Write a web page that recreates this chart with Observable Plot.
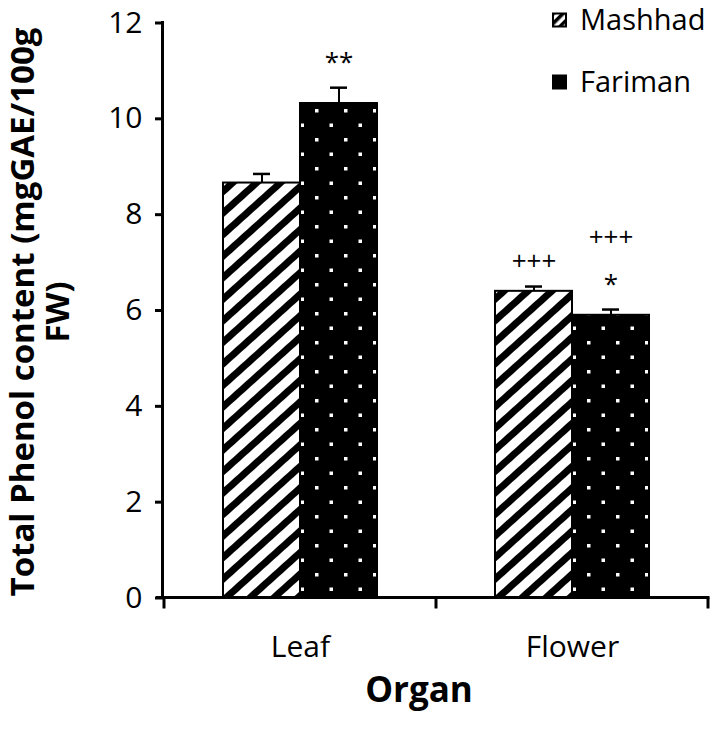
<!DOCTYPE html>
<html>
<head>
<meta charset="utf-8">
<script src="https://cdn.jsdelivr.net/npm/d3@7"></script>
<script src="https://cdn.jsdelivr.net/npm/@observablehq/plot@0.6"></script>
<style>
  html, body { margin: 0; padding: 0; background: #fff; }
  #chart { width: 717px; height: 729px; }
</style>
</head>
<body>
<div id="chart"></div>
<script>
// ---- data ----
const organs = ["Leaf", "Flower"];
const sites = ["Mashhad", "Fariman"];
const mashhadMean = [8.66, 6.40];
const mashhadErr = [0.19, 0.10];
const farimanMean = [10.32, 5.90];
const farimanErr = [0.33, 0.12];
// significance marks: first row right above the error bar, second row above it
const mashhadNote1 = ["", "+++"];
const farimanNote1 = ["**", "*"];
const mashhadNote2 = ["", ""];
const farimanNote2 = ["", "+++"];
const yTicks = [0, 2, 4, 6, 8, 10, 12];
const yLabelLines = ["Total Phenol content (mgGAE/100g", "FW)"];
const xTitle = "Organ";

const rows = [];
organs.forEach((o, i) => {
  rows.push({organ: o, site: "Mashhad", mean: mashhadMean[i], top: mashhadMean[i] + mashhadErr[i], note1: mashhadNote1[i], note2: mashhadNote2[i]});
  rows.push({organ: o, site: "Fariman", mean: farimanMean[i], top: farimanMean[i] + farimanErr[i], note1: farimanNote1[i], note2: farimanNote2[i]});
});

const FONT = "'Open Sans', 'DejaVu Sans', sans-serif";

const plot = Plot.plot({
  width: 717,
  height: 729,
  marginLeft: 164,
  marginRight: 9,
  marginTop: 22.5,
  marginBottom: 131.5,
  style: {fontFamily: FONT, background: "white", color: "black", overflow: "visible"},
  fx: {domain: organs, padding: 0, label: null, axis: null},
  x: {domain: sites, paddingInner: 0, paddingOuter: 0.75, axis: null},
  y: {domain: [0, 12], axis: null},
  marks: [
    Plot.barY(rows.filter(d => d.site === "Mashhad"), {fx: "organ", x: "site", y: "mean", fill: "url(#stripes)", stroke: "black", strokeWidth: 2}),
    Plot.barY(rows.filter(d => d.site === "Fariman"), {fx: "organ", x: "site", y: "mean", fill: "url(#dots)", stroke: "black", strokeWidth: 2}),
    Plot.ruleX(rows, {fx: "organ", x: "site", y1: "mean", y2: "top", stroke: "black", strokeWidth: 2}),
    Plot.tickY(rows, {fx: "organ", x: "site", y: "top", inset: 30, stroke: "black", strokeWidth: 2.5}),
    Plot.text(rows, {fx: "organ", x: "site", y: "top", text: "note1", dy: -25, fontSize: 26, fill: "black"}),
    Plot.text(rows, {fx: "organ", x: "site", y: "top", text: "note2", dy: -72, fontSize: 26, fill: "black"}),
    Plot.axisY({ticks: yTicks, tickSize: 9, tickPadding: 13, fontSize: 30, strokeWidth: 3, label: null}),
    Plot.axisFx({anchor: "bottom", tickSize: 0, tickPadding: 38, fontSize: 30, label: null})
  ]
});

const svg = d3.select(plot);
const defs = svg.insert("defs", ":first-child");
// diagonal stripes (Mashhad)
const st = defs.append("pattern").attr("id", "stripes").attr("patternUnits", "userSpaceOnUse")
  .attr("width", 16).attr("height", 16).attr("patternTransform", "rotate(-42)");
st.append("rect").attr("width", 16).attr("height", 16).attr("fill", "white");
st.append("rect").attr("width", 16).attr("height", 7).attr("fill", "black");
// dotted black (Fariman)
const dt = defs.append("pattern").attr("id", "dots").attr("patternUnits", "userSpaceOnUse")
  .attr("x", 25).attr("y", 22).attr("width", 29).attr("height", 29);
dt.append("rect").attr("width", 29).attr("height", 29).attr("fill", "black");
dt.append("rect").attr("x", 0).attr("y", 0).attr("width", 3.5).attr("height", 3.5).attr("fill", "white");
dt.append("rect").attr("x", 14.5).attr("y", 14.5).attr("width", 3.5).attr("height", 3.5).attr("fill", "white");

// axis lines using the plot's scales
const fx = plot.scale("fx");
const y = plot.scale("y");
const x0 = fx.apply(organs[0]);
const xEnd = fx.apply(organs[organs.length - 1]) + fx.bandwidth;
const yZero = y.apply(0), yTop = y.apply(12);
const axes = svg.append("g").attr("stroke", "black").attr("stroke-width", 3).attr("fill", "none");
axes.append("line").attr("x1", x0 - 1.5).attr("x2", x0 - 1.5).attr("y1", yTop - 1.5).attr("y2", yZero + 1.5);
axes.append("line").attr("x1", x0 - 8).attr("x2", xEnd + 1.5).attr("y1", yZero).attr("y2", yZero);
const bounds = organs.map(o => fx.apply(o)).concat([xEnd]);
bounds.forEach(b => axes.append("line").attr("x1", b).attr("x2", b).attr("y1", yZero).attr("y2", yZero + 11));

// y-axis title (two lines, rotated)
const yMid = (yZero + yTop) / 2;
const yt = svg.append("text").attr("transform", `translate(22,${yMid + 2}) rotate(-90)`)
  .attr("text-anchor", "middle").attr("font-weight", "bold").attr("font-size", 33)
  .attr("font-family", FONT).attr("fill", "black");
yt.append("tspan").attr("x", 0).attr("dy", "0.35em").text(yLabelLines[0]);
yt.append("tspan").attr("x", 0).attr("dy", "1.07em").text(yLabelLines[1]);

// x-axis title
svg.append("text").attr("x", 419).attr("y", 690).attr("dy", "0.35em")
  .attr("text-anchor", "middle").attr("font-weight", "bold").attr("font-size", 35)
  .attr("font-family", FONT).attr("fill", "black").text(xTitle);

// legend
const lg = svg.append("g").attr("font-family", FONT).attr("font-size", 29).attr("fill", "black")
  .attr("text-anchor", "start");
const legendPattern = defs.append("pattern").attr("id", "stripesSmall").attr("patternUnits", "userSpaceOnUse")
  .attr("width", 7).attr("height", 7).attr("patternTransform", "rotate(-45)");
legendPattern.append("rect").attr("width", 7).attr("height", 7).attr("fill", "white");
legendPattern.append("rect").attr("width", 7).attr("height", 3.5).attr("fill", "black");
const legendFill = {Mashhad: "url(#stripesSmall)", Fariman: "black"};
sites.forEach((s, i) => {
  const cy = 20 + i * 62;
  lg.append("rect").attr("x", 553).attr("y", cy - 6.5).attr("width", 13).attr("height", 13)
    .attr("fill", legendFill[s]).attr("stroke", "black").attr("stroke-width", 2);
  lg.append("text").attr("x", 580).attr("y", cy).attr("dy", "0.35em").attr("text-anchor", "start").text(s);
});

document.getElementById("chart").appendChild(plot);
</script>
</body>
</html>
